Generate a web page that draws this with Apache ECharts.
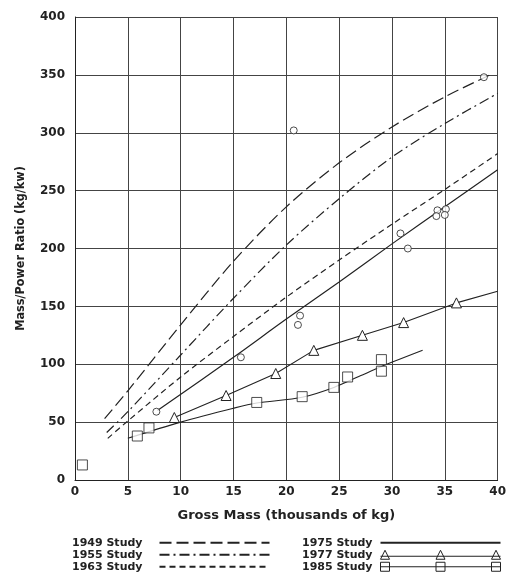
<!DOCTYPE html>
<html>
<head>
<meta charset="utf-8">
<script src="https://cdn.jsdelivr.net/npm/echarts@6/dist/echarts.min.js"></script>
<style>
  html, body { margin: 0; padding: 0; background: #fff; }
  #chart { width: 509px; height: 574px; }
</style>
</head>
<body>
<div id="chart"></div>
<script>
// Axis ticks
const xTicks = [0, 5, 10, 15, 20, 25, 30, 35, 40];
const yTicks = [0, 50, 100, 150, 200, 250, 300, 350, 400];

// Fitted trend curves: [gross mass (1000 kg), mass/power ratio (kg/kW)]
const study1949 = [[2.8, 53], [5, 77], [10, 134], [15, 189], [20, 236], [25, 274], [30, 305], [35, 331], [39.3, 350]];
const study1955 = [[3.0, 41], [5, 59], [10, 108], [15, 157], [20, 203], [25, 243], [30, 279], [35, 308], [40, 334]];
const study1963 = [[3.1, 36], [5, 51], [10, 89], [15, 124], [20, 158], [25, 190], [30, 221], [35, 251], [40, 282]];
const study1975 = [[7.8, 60], [15, 106], [20, 139], [25, 171], [30, 204], [35, 236], [40, 268]];
const study1977 = [[9.4, 54], [14.3, 73], [19.0, 92], [22.6, 112], [27.2, 125], [31.1, 136], [36.1, 153], [40, 163]];
const study1985 = [[5, 36], [10, 50], [15, 62], [17.2, 66.5], [21.5, 71.5], [24.5, 80], [27, 90], [29, 98], [32.9, 112]];

// Individual aircraft points
const circlePoints = [[7.7, 59], [15.7, 106], [20.7, 302], [21.3, 142], [21.1, 134], [30.8, 213], [31.5, 200],
  [34.3, 233], [35.1, 234], [34.2, 228], [35.0, 229], [38.7, 348]];
const squarePoints = [[0.7, 13], [5.9, 38], [7.0, 45], [17.2, 67], [21.5, 72], [24.5, 80], [25.8, 89], [29.0, 104], [29.0, 94]];

const legendLeft = ['1949 Study', '1955 Study', '1963 Study'];
const legendRight = ['1975 Study', '1977 Study', '1985 Study'];

const ink = '#222';
const font = 'DejaVu Sans';

function trend(name, data, dash) {
  return {
    name, type: 'line', data, symbol: 'none', smooth: 0.3,
    lineStyle: { color: ink, width: 1.2, type: dash },
    itemStyle: { color: ink },
    silent: true, z: 3
  };
}

// 1977 line carries its triangles, except the extrapolated end
const data1977 = study1977.map((p, i) => i === study1977.length - 1
  ? { value: p, symbol: 'none' } : { value: p });

// Legend keys: a line with a marker at each end and in the middle
const triKey = 'path://M0,6L120,6 M0,9L4.5,0L9,9Z M55.5,9L60,0L64.5,9Z M111,9L115.5,0L120,9Z';
const sqKey = 'path://M0,4.5L120,4.5 M0,0L9,0L9,9L0,9Z M55.5,0L64.5,0L64.5,9L55.5,9Z M111,0L120,0L120,9L111,9Z';
const keyStyle = { color: '#fff', borderColor: ink, borderWidth: 1 };
const hideDot = { opacity: 0 };

const legendText = { fontFamily: font, fontWeight: 'bold', fontSize: 11, color: ink, lineHeight: 11.5 };

const option = {
  backgroundColor: '#fff',
  animation: false,
  textStyle: { fontFamily: font, color: ink },
  grid: { left: 75, right: 7, top: 17, bottom: 94 },
  xAxis: {
    type: 'value', min: 0, max: 40, interval: 5,
    name: 'Gross Mass (thousands of kg)', nameLocation: 'middle', nameGap: 29,
    nameTextStyle: { fontFamily: font, fontWeight: 'bold', fontSize: 13, color: ink },
    axisLine: { show: true, lineStyle: { color: ink, width: 1 } },
    axisTick: { show: false },
    axisLabel: { fontFamily: font, fontWeight: 'bold', fontSize: 12, color: ink, margin: 6,
      formatter: v => xTicks.includes(v) ? String(v) : '' },
    splitLine: { show: true, lineStyle: { color: '#444', width: 1 } }
  },
  yAxis: {
    type: 'value', min: 0, max: 400, interval: 50,
    name: 'Mass/Power Ratio (kg/kw)', nameLocation: 'middle', nameGap: 48, nameRotate: 90,
    nameTextStyle: { fontFamily: 'DejaVu Sans Condensed', fontWeight: 'bold', fontSize: 12.5, color: ink },
    axisLine: { show: true, lineStyle: { color: ink, width: 1 } },
    axisTick: { show: false },
    axisLabel: { fontFamily: font, fontWeight: 'bold', fontSize: 12, color: ink, margin: 10,
      formatter: v => yTicks.includes(v) ? String(v) : '' },
    splitLine: { show: true, lineStyle: { color: '#444', width: 1 } }
  },
  legend: [
    {
      data: legendLeft.map(name => ({ name, itemStyle: hideDot })),
      orient: 'vertical', left: 72, top: 537, align: 'right', padding: 0,
      itemWidth: 110, itemHeight: 9, itemGap: 0.5,
      textStyle: Object.assign({ padding: [0, 12, 0, 0] }, legendText),
      selectedMode: false
    },
    {
      data: [
        { name: legendRight[0], itemStyle: hideDot },
        { name: legendRight[1], icon: triKey, itemStyle: keyStyle },
        { name: legendRight[2], icon: sqKey, itemStyle: keyStyle }
      ],
      orient: 'vertical', left: 302, top: 537, align: 'right', padding: 0,
      itemWidth: 120, itemHeight: 9, itemGap: 0.5, symbolKeepAspect: false,
      textStyle: Object.assign({ padding: [0, 3, 0, 0] }, legendText),
      selectedMode: false
    }
  ],
  series: [
    trend(legendLeft[0], study1949, [12, 5]),
    trend(legendLeft[1], study1955, [10, 4, 2, 4]),
    trend(legendLeft[2], study1963, [6, 4]),
    trend(legendRight[0], study1975, 'solid'),
    {
      name: legendRight[1], type: 'line', data: data1977,
      symbol: 'triangle', symbolSize: 10, showSymbol: true,
      lineStyle: { color: ink, width: 1.1 },
      itemStyle: { color: '#fff', borderColor: ink, borderWidth: 1 },
      silent: true, z: 4
    },
    {
      name: legendRight[2], type: 'line', data: study1985, smooth: 0.3,
      symbol: 'none',
      lineStyle: { color: ink, width: 1.1 },
      itemStyle: { color: '#fff', borderColor: ink, borderWidth: 1 },
      silent: true, z: 4
    },
    {
      name: 'circles', type: 'scatter', data: circlePoints,
      symbol: 'circle', symbolSize: 7,
      itemStyle: { color: '#fff', borderColor: ink, borderWidth: 1 }, silent: true, z: 5
    },
    {
      name: 'squares', type: 'scatter', data: squarePoints,
      symbol: 'rect', symbolSize: 10,
      itemStyle: { color: '#fff', borderColor: ink, borderWidth: 1 }, silent: true, z: 5
    }
  ]
};

const chart = echarts.init(document.getElementById('chart'), null, { renderer: 'canvas' });
chart.setOption(option);
</script>
</body>
</html>
